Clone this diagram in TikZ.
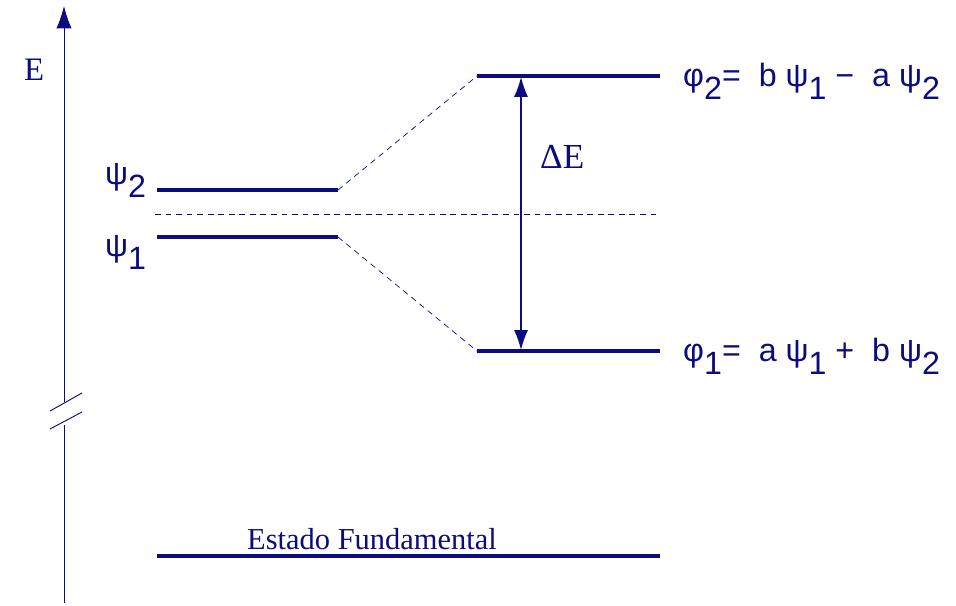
\documentclass[tikz,border=0pt]{standalone}
\usepackage{fontspec}
\setmainfont{Liberation Serif}
\newfontfamily\eqfont{Liberation Sans}
\usetikzlibrary{arrows.meta}
\definecolor{navy}{RGB}{12,12,128}
\newcommand{\lowidx}[1]{\raisebox{-0.42em}{#1}}
\begin{document}
\begin{tikzpicture}[x=0.03cm,y=-0.03cm,navy,
    level/.style={line width=2.9pt},
    guide/.style={line width=0.6pt,dash pattern=on 5pt off 4pt},
    eqlabel/.style={font=\eqfont\fontsize{27.5}{32}\selectfont,anchor=base west,inner sep=0pt},
    serlabel/.style={font=\fontsize{26}{30}\selectfont,anchor=base west,inner sep=0pt}]
    \useasboundingbox (0,0) rectangle (956,605);

    % energy axis with a break
    \coordinate (axbot) at (64,603);
    \coordinate (axlo) at (64,425);
    \coordinate (axhi) at (64,402);
    \coordinate (axtop) at (64,6);
    \draw[line width=0.8pt] (axbot) -- (axlo);
    \draw[line width=0.8pt,-{Latex[length=19pt,width=13pt]}] (axhi) -- (axtop);
    \draw[line width=0.8pt] (50,411) -- (82,393);
    \draw[line width=0.8pt] (50,429) -- (82,412);
    \node[serlabel,font=\fontsize{28}{32}\selectfont] (elabel) at (24,80) {E};

    % levels
    \coordinate (psitwoL) at (157,190);
    \coordinate (psitwoR) at (338,190);
    \coordinate (psioneL) at (157,237);
    \coordinate (psioneR) at (338,237);
    \coordinate (phitwoL) at (477,76);
    \coordinate (phitwoR) at (660,76);
    \coordinate (phioneL) at (477,351);
    \coordinate (phioneR) at (660,351);
    \coordinate (groundL) at (157,556);
    \coordinate (groundR) at (660,556);
    \coordinate (midL) at (155,214);
    \coordinate (midR) at (660,214);

    \draw[level] (psitwoL) -- (psitwoR);
    \draw[level] (psioneL) -- (psioneR);
    \draw[level] (phitwoL) -- (phitwoR);
    \draw[level] (phioneL) -- (phioneR);
    \draw[level] (groundL) -- (groundR);

    \draw[guide] (midL) -- (midR);
    \draw[guide] (psitwoR) -- (phitwoL);
    \draw[guide] (psioneR) -- (phioneL);

    % splitting
    \coordinate (detop) at (521,77);
    \coordinate (debot) at (521,350);
    \draw[line width=1.2pt,{Latex[length=17pt,width=12pt]}-{Latex[length=17pt,width=12pt]}] (detop) -- (debot);
    \node[serlabel,font=\fontsize{30}{34}\selectfont] (delabel) at (540,168) {ΔE};

    % labels
    \node[eqlabel] (psitwo) at (105,184) {ψ\lowidx{2}};
    \node[eqlabel] (psione) at (105,256) {ψ\lowidx{1}};
    \node[eqlabel] (phitwo) at (683,86) {φ\lowidx{2}= \ b ψ\lowidx{1} − \ a ψ\lowidx{2}};
    \node[eqlabel] (phione) at (683,361) {φ\lowidx{1}= \ a ψ\lowidx{1} + \ b ψ\lowidx{2}};
    \node[serlabel] (ground) at (247,549) {Estado Fundamental};
\end{tikzpicture}
\end{document}
